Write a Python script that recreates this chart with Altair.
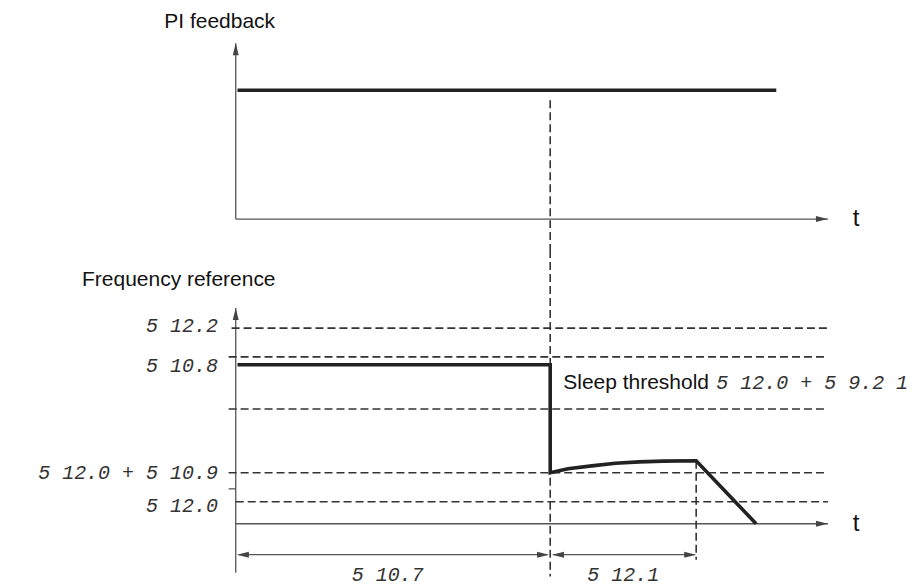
import altair as alt
import pandas as pd

# ---------------- scales (time units / level units) ----------------
T_DOMAIN = [-38.38, 113.30]
PI_DOMAIN = [-0.176, 1.199]
FR_DOMAIN = [-15.28, 76.11]

# ---------------- time markers ----------------
t_start = 0.3
t_sleep = 53.0         # instant the sleep function is triggered
t_delay_end = 77.6     # end of the sleep delay
t_axis_end = 99.8
t_pi_end = 91.1
t_left_tick = -1.2
t_left_122 = -0.7

# ---------------- PI feedback panel ----------------
pi_arrow = 1.0
pi_level = 0.733
pi_dash_top = 0.676

# ---------------- frequency reference panel ----------------
fr_arrow = 60.0
lvl_122 = 54.4
lvl_108 = 46.4
lvl_sleep = 31.9
lvl_wake = 14.2
lvl_tick = 9.7
lvl_120 = 6.1
fr_axis_bottom = -13.6
fr_dim = -8.6
fr_dash_bottom = -14.7
fr_delay_dash_bottom = -10.0

# frequency reference trace
freq_t = [0.3, 53.0, 53.0, 56.0, 60.0, 64.0, 68.0, 72.0, 77.6, 87.7]
freq_v = [44.2, 44.2, 14.2, 15.3, 16.1, 16.8, 17.2, 17.4, 17.5, 0.0]

# ---------------- texts ----------------
top_texts = ["PI feedback", "t"]
top_text_t = [-2.7, 104.0]
top_text_v = [1.119, 0.0]
top_text_align = ["center", "left"]
top_text_font = ["sans", "big"]

bot_texts = ["Frequency reference", "5 12.2", "5 10.8", "5 12.0 + 5 10.9", "5 12.0",
             "Sleep threshold", "5 12.0 + 5 9.2 1", "t", "5 10.7", "5 12.1"]
bot_text_t = [-25.9, -3.0, -3.0, -3.0, -3.0, 55.2, 81.0, 104.0, 25.6, 65.3]
bot_text_v = [67.8, 55.0, 44.0, 14.2, 4.9, 39.2, 39.2, 0.0, -14.2, -14.2]
bot_text_align = ["left", "right", "right", "right", "right", "left", "left", "left", "center", "center"]
bot_text_font = ["sans", "seg", "seg", "seg", "seg", "sans", "seg", "big", "seg", "seg"]

ARROW_PATHS = {
    "up": "M0,0L-0.5,2L0.5,2Z",
    "right": "M0,0L-2,-0.5L-2,0.5Z",
    "left": "M0,0L2,-0.5L2,0.5Z",
}

top_rules = pd.DataFrame([
    dict(kind="axis", t=0, v=0, t2=0, v2=pi_arrow),
    dict(kind="axis", t=0, v=0, t2=t_axis_end, v2=0),
    dict(kind="thick", t=t_start, v=pi_level, t2=t_pi_end, v2=pi_level),
    dict(kind="dash", t=t_sleep, v=pi_dash_top, t2=t_sleep, v2=PI_DOMAIN[0]),
])
top_arrows = pd.DataFrame([
    dict(t=0, v=pi_arrow, dir="up"),
    dict(t=t_axis_end, v=0, dir="right"),
])

bot_rules = pd.DataFrame([
    dict(kind="axis", t=0, v=fr_axis_bottom, t2=0, v2=fr_arrow),
    dict(kind="axis", t=0, v=0, t2=t_axis_end, v2=0),
    dict(kind="axis", t=t_left_tick, v=lvl_tick, t2=0, v2=lvl_tick),
    dict(kind="axis", t=0.5, v=fr_dim, t2=t_sleep - 0.5, v2=fr_dim),
    dict(kind="axis", t=t_sleep + 0.5, v=fr_dim, t2=t_delay_end - 0.3, v2=fr_dim),
    dict(kind="dash", t=t_left_122, v=lvl_122, t2=t_axis_end, v2=lvl_122),
    dict(kind="dash", t=t_left_tick, v=lvl_108, t2=t_axis_end, v2=lvl_108),
    dict(kind="dash", t=t_left_tick, v=lvl_sleep, t2=t_axis_end, v2=lvl_sleep),
    dict(kind="dash", t=t_left_tick, v=lvl_wake, t2=t_axis_end, v2=lvl_wake),
    dict(kind="dash", t=0, v=lvl_120, t2=t_axis_end, v2=lvl_120),
    dict(kind="dash", t=t_sleep, v=FR_DOMAIN[1], t2=t_sleep, v2=fr_dash_bottom),
    dict(kind="dash", t=t_delay_end, v=17.5, t2=t_delay_end, v2=fr_delay_dash_bottom),
])
bot_arrows = pd.DataFrame([
    dict(t=0, v=fr_arrow, dir="up"),
    dict(t=t_axis_end, v=0, dir="right"),
    dict(t=0.2, v=fr_dim, dir="left"),
    dict(t=t_sleep - 0.2, v=fr_dim, dir="right"),
    dict(t=t_sleep + 0.3, v=fr_dim, dir="left"),
    dict(t=t_delay_end, v=fr_dim, dir="right"),
])
freq_df = pd.DataFrame({"t": freq_t, "v": freq_v, "o": list(range(len(freq_t)))})

top_text_df = pd.DataFrame({"label": top_texts, "t": top_text_t, "v": top_text_v,
                            "align": top_text_align, "font": top_text_font})
bot_text_df = pd.DataFrame({"label": bot_texts, "t": bot_text_t, "v": bot_text_v,
                            "align": bot_text_align, "font": bot_text_font})

RULE_STYLES = {
    "axis": dict(color="#555555", strokeWidth=1.3),
    "dash": dict(color="#333333", strokeWidth=1.6, strokeDash=[8, 4]),
    "thick": dict(color="#222222", strokeWidth=3.6, strokeCap="butt"),
}
FONT_STYLES = {
    "sans": dict(font="Liberation Sans", fontSize=21, color="#111111"),
    "big": dict(font="Liberation Sans", fontSize=24, color="#111111"),
    "seg": dict(font="Liberation Mono", fontSize=20, fontStyle="italic", color="#333333"),
}

XS = alt.Scale(domain=T_DOMAIN, nice=False, zero=False)


def panel(rules, arrows, texts, ydom, height, line_df=None):
    ys = alt.Scale(domain=ydom, nice=False, zero=False)
    layers = []
    for kind, st in RULE_STYLES.items():
        sub = rules[rules["kind"] == kind]
        if len(sub):
            layers.append(alt.Chart(sub).mark_rule(**st).encode(
                x=alt.X("t:Q", scale=XS, axis=None), x2="t2:Q",
                y=alt.Y("v:Q", scale=ys, axis=None), y2="v2:Q"))
    if line_df is not None:
        layers.append(alt.Chart(line_df).mark_line(
            color="#222222", strokeWidth=3.6, strokeJoin="miter", strokeCap="butt").encode(
            x=alt.X("t:Q", scale=XS, axis=None), y=alt.Y("v:Q", scale=ys, axis=None),
            order="o:Q"))
    layers.append(alt.Chart(arrows).mark_point(
        filled=True, size=144, opacity=1, color="#444444", strokeWidth=0).encode(
        x=alt.X("t:Q", scale=XS, axis=None), y=alt.Y("v:Q", scale=ys, axis=None),
        shape=alt.Shape("dir:N", legend=None,
                        scale=alt.Scale(domain=list(ARROW_PATHS.keys()),
                                        range=list(ARROW_PATHS.values())))))
    for font, fst in FONT_STYLES.items():
        for align in ["left", "center", "right"]:
            sub = texts[(texts["font"] == font) & (texts["align"] == align)]
            if len(sub):
                layers.append(alt.Chart(sub).mark_text(
                    align=align, baseline="middle", **fst).encode(
                    x=alt.X("t:Q", scale=XS, axis=None),
                    y=alt.Y("v:Q", scale=ys, axis=None), text="label:N"))
    return alt.layer(*layers).properties(width=901, height=height)


top = panel(top_rules, top_arrows, top_text_df, PI_DOMAIN, 242)
bottom = panel(bot_rules, bot_arrows, bot_text_df, FR_DOMAIN, 329, line_df=freq_df)

chart = alt.vconcat(top, bottom, spacing=0, bounds="flush").properties(
    padding=0, background="white"
).configure_view(stroke=None)

chart.save("out.html", embed_options={"renderer": "svg", "actions": False})
